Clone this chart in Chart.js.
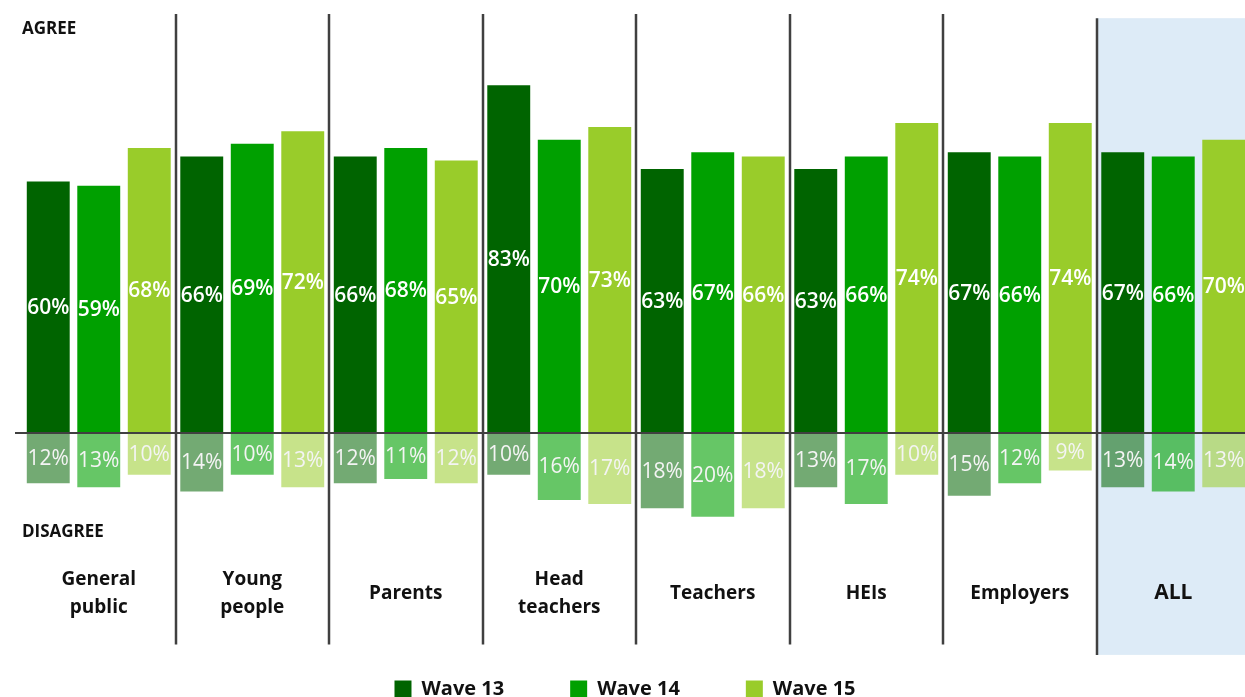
<!DOCTYPE html>
<html>
<head>
<meta charset="utf-8">
<script src="https://cdn.jsdelivr.net/npm/chart.js@4/dist/chart.umd.min.js"></script>
<style>
  html, body { margin: 0; padding: 0; background: #ffffff; overflow: hidden; }
  #wrap { position: relative; width: 1250px; height: 709px; }
</style>
</head>
<body>
<div id="wrap"><canvas id="chart"></canvas></div>
<script>
// Agree / disagree par groupe et par vague.
const categories = [
  ['General', 'public'], ['Young', 'people'], ['Parents'], ['Head', 'teachers'],
  ['Teachers'], ['HEIs'], ['Employers'], ['ALL']
];
const waves = ['Wave 13', 'Wave 14', 'Wave 15'];

const agree13 = [60, 66, 66, 83, 63, 63, 67, 67];
const agree14 = [59, 69, 68, 70, 67, 66, 66, 66];
const agree15 = [68, 72, 65, 73, 66, 74, 74, 70];

const disagree13 = [12, 14, 12, 10, 18, 13, 15, 13];
const disagree14 = [13, 10, 11, 16, 20, 17, 12, 14];
const disagree15 = [10, 13, 12, 17, 18, 10, 9, 13];

const colors    = ['#006400', '#00A000', '#99CC2A'];
const negColors = ['rgba(0,100,0,0.55)', 'rgba(0,160,0,0.6)', 'rgba(153,204,42,0.55)'];
const lineCol   = '#404040';
const allBg     = '#DDEBF7';

const agree = [agree13, agree14, agree15];
const disagree = [disagree13, disagree14, disagree15];
const stacks = ['w13', 'w14', 'w15'];

const datasets = [];
agree.forEach((vals, i) => datasets.push({
  label: waves[i], data: vals, backgroundColor: colors[i], stack: stacks[i],
  categoryPercentage: 0.987, barPercentage: 0.85, borderWidth: 0,
}));
disagree.forEach((vals, i) => datasets.push({
  label: waves[i] + ' disagree', data: vals.map(v => -v), backgroundColor: negColors[i], stack: stacks[i],
  categoryPercentage: 0.987, barPercentage: 0.85, borderWidth: 0,
}));

const decor = {
  id: 'decor',
  beforeDatasetsDraw(chart) {
    const { ctx, chartArea, scales: { x, y } } = chart;
    const half = (x.getPixelForValue(1) - x.getPixelForValue(0)) / 2;
    const last = categories.length - 1;
    ctx.save();
    // fond du groupe ALL
    const allLeft = x.getPixelForValue(last) - half;
    ctx.fillStyle = allBg;
    ctx.fillRect(allLeft, y.getPixelForValue(99), chart.width - allLeft,
      y.getPixelForValue(-53) - y.getPixelForValue(99));
    // séparateurs verticaux
    ctx.strokeStyle = lineCol;
    ctx.lineWidth = 2.5;
    for (let i = 1; i < categories.length; i++) {
      const px = Math.round(x.getPixelForValue(i) - half);
      const top = i === last ? y.getPixelForValue(99) : chartArea.top;
      const bottom = i === last ? y.getPixelForValue(-53) : y.getPixelForValue(-50.5);
      ctx.beginPath();
      ctx.moveTo(px, top);
      ctx.lineTo(px, bottom);
      ctx.stroke();
    }
    ctx.restore();
  },
  afterDatasetsDraw(chart) {
    const { ctx, chartArea, scales: { x, y } } = chart;
    ctx.save();
    // ligne de base
    const y0 = y.getPixelForValue(0);
    ctx.strokeStyle = lineCol;
    ctx.lineWidth = 2;
    ctx.beginPath();
    ctx.moveTo(chartArea.left - 7, y0);
    ctx.lineTo(chart.width, y0);
    ctx.stroke();

    // étiquettes de valeurs
    ctx.textAlign = 'center';
    ctx.textBaseline = 'middle';
    chart.data.datasets.forEach((ds, di) => {
      const meta = chart.getDatasetMeta(di);
      const positive = di < 3;
      ctx.font = positive ? '600 21px "Open Sans"' : '21px "Open Sans"';
      ctx.fillStyle = positive ? '#ffffff' : '#f4f4f4';
      meta.data.forEach((bar, j) => {
        const v = Math.abs(ds.data[j]);
        ctx.fillText(v + '%', bar.x, (bar.y + bar.base) / 2 + 1);
      });
    });

    // AGREE / DISAGREE
    ctx.fillStyle = '#111111';
    ctx.textAlign = 'left';
    ctx.font = 'bold 17px "Open Sans"';
    ctx.fillText('AGREE', chartArea.left, y.getPixelForValue(96.4));
    ctx.fillText('DISAGREE', chartArea.left, y.getPixelForValue(-23.8));

    // noms des groupes
    ctx.textAlign = 'center';
    categories.forEach((lines, i) => {
      const cx = x.getPixelForValue(i);
      const cy = y.getPixelForValue(-38.3);
      const isAll = i === categories.length - 1;
      ctx.font = isAll ? 'bold 21px "Open Sans"' : 'bold 19px "Open Sans"';
      const lh = 28;
      lines.forEach((t, k) => {
        ctx.fillText(t, cx, cy + (k - (lines.length - 1) / 2) * lh);
      });
    });
    ctx.restore();
  }
};

new Chart(document.getElementById('chart'), {
  type: 'bar',
  data: { labels: categories.map(c => c.join(' ')), datasets },
  options: {
    responsive: true,
    maintainAspectRatio: false,
    animation: false,
    devicePixelRatio: 1,
    layout: { padding: { top: 14, left: 0, right: 0, bottom: 0 } },
    plugins: {
      tooltip: { enabled: false },
      legend: {
        position: 'bottom',
        labels: {
          filter: (item) => item.datasetIndex < 3,
          boxWidth: 17,
          boxHeight: 17,
          padding: 66,
          color: '#111111',
          font: { family: 'Open Sans', size: 20, weight: 'bold' },
        },
      },
    },
    scales: {
      x: { display: false },
      y: {
        display: true, stacked: true, min: -43, max: 100,
        ticks: { display: false }, grid: { display: false }, border: { display: false },
        afterFit: (s) => { s.width = 22; },
      },
    },
  },
  plugins: [decor],
});
</script>
</body>
</html>
